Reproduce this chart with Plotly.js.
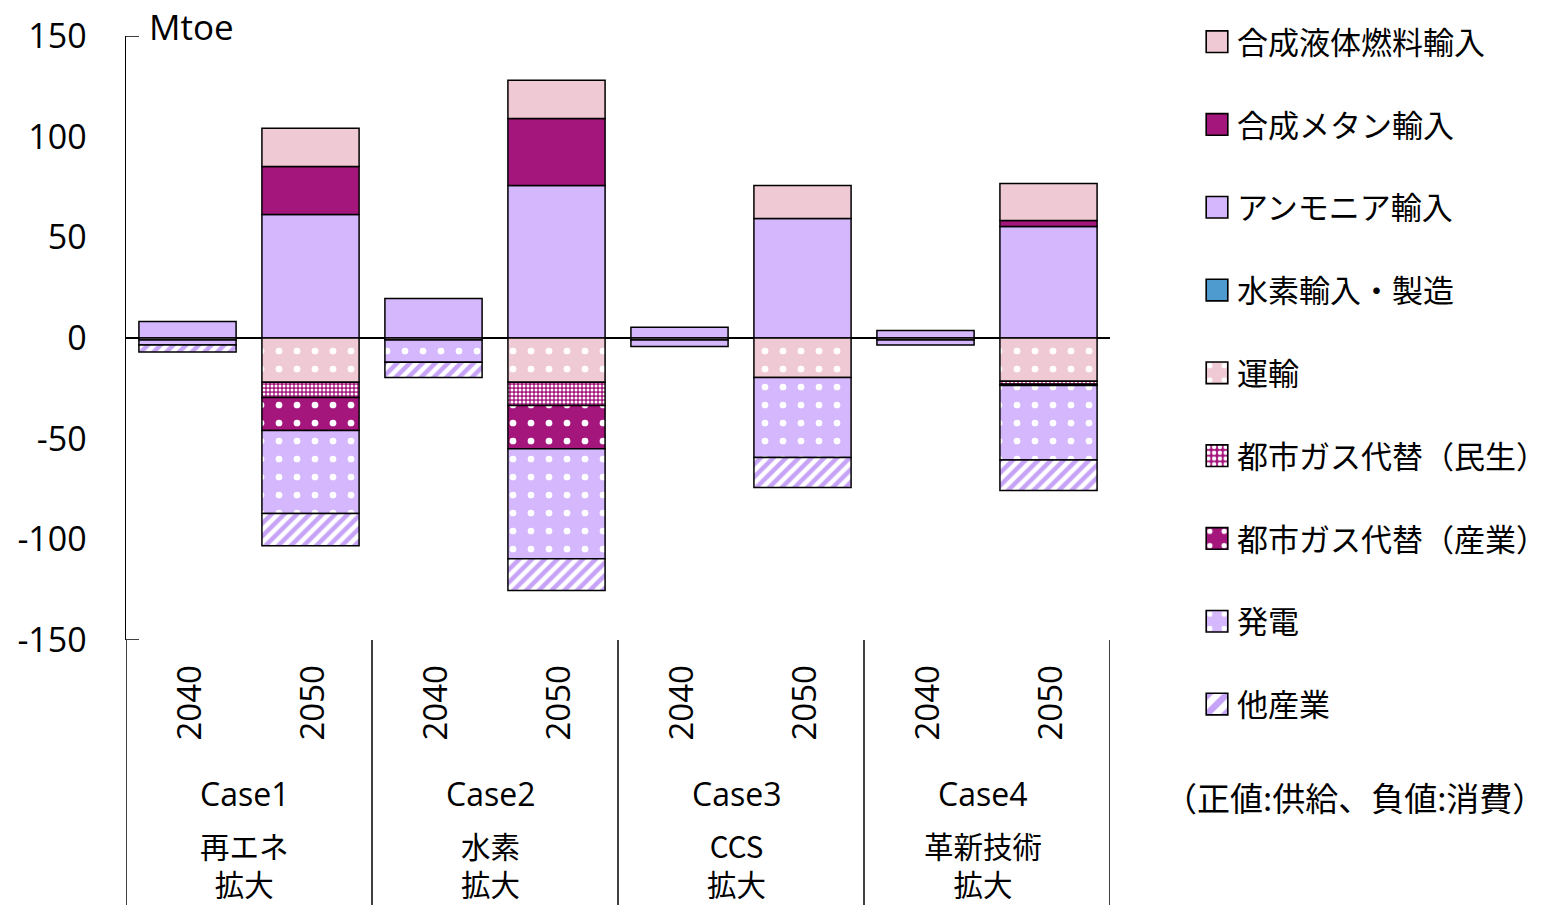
<!DOCTYPE html>
<html>
<head>
<meta charset="utf-8">
<script src="https://cdn.plot.ly/plotly-3.0.1.min.js"></script>
<style>
  html, body { margin: 0; padding: 0; background: #fff; }
  #chart { width: 1560px; height: 905px; }
</style>
</head>
<body>
<div id="chart"></div>
<script>
// Bar slots: 2040 / 2050 for each case
const years = ['2040', '2050', '2040', '2050', '2040', '2050', '2040', '2050'];
const caseNames = ['Case1', 'Case2', 'Case3', 'Case4'];
const caseSubtitles = [['再エネ', '拡大'], ['水素', '拡大'], ['CCS', '拡大'], ['革新技術', '拡大']];

// Supply (positive, Mtoe)
const hydrogenImport = [null, null, null, null, null, null, null, null];
const ammoniaImport  = [8.2, 61.3, 19.6, 75.8, 5.4, 59.4, 3.7, 55.4];
const methaneImport  = [null, 23.9, null, 33.2, null, null, null, 3.0];
const liquidImport   = [null, 19.0, null, 19.0, null, 16.4, null, 18.4];

// Consumption (negative, Mtoe)
const transport      = [-1.0, -22.0, -1.0, -22.0, -1.0, -19.6, -1.0, -21.5];
const cityGasHome    = [null, -7.5, null, -11.5, null, null, null, -1.5];
const cityGasIndustry= [null, -16.4, null, -21.5, null, null, null, -0.6];
const power          = [-2.5, -41.3, -11.0, -54.6, -3.2, -39.8, -2.5, -37.0];
const otherIndustry  = [-3.5, -16.0, -7.6, -15.8, null, -14.9, null, -15.2];

const legendNames = ['合成液体燃料輸入', '合成メタン輸入', 'アンモニア輸入', '水素輸入・製造',
  '運輸', '都市ガス代替（民生）', '都市ガス代替（産業）', '発電', '他産業'];

const PINK = '#EFCAD5', MAGENTA = '#A5167D', LAVENDER = '#D4B7FC', BLUE = '#4D9BCF';

// Plot area in pixels
const L = 126, R = 1110, T = 36, B = 640;
const py = p => (B - p) / (B - T);       // pixel y -> paper y
const pxp = p => (p - L) / (R - L);      // pixel x -> paper x

const xs = years.map((_, i) => i);
const FONT = '"Open Sans", "Noto Sans CJK JP", sans-serif';
const JFONT = '"Noto Sans CJK JP", sans-serif';

function bar(name, y, color, pattern, rank) {
  const t = {
    type: 'bar', name: name, x: xs, y: y, width: 0.79,
    legendgroup: name, legendrank: rank,
    marker: { color: color, line: { color: '#000', width: 1.5 } },
    hoverinfo: 'name+y'
  };
  if (pattern) t.marker.pattern = pattern;
  return t;
}

const dots = { shape: '.', fgcolor: '#ffffff', size: 18, solidity: 0.11 };

const traces = [
  bar(legendNames[3], hydrogenImport, BLUE, null, 4),
  bar(legendNames[2], ammoniaImport, LAVENDER, null, 3),
  bar(legendNames[1], methaneImport, MAGENTA, null, 2),
  bar(legendNames[0], liquidImport, PINK, null, 1),
  bar(legendNames[4], transport, PINK, Object.assign({ bgcolor: PINK }, dots), 5),
  bar(legendNames[5], cityGasHome, MAGENTA, { shape: '.', fgcolor: '#ffffff', bgcolor: MAGENTA, size: 4, solidity: 0.45 }, 6),
  bar(legendNames[6], cityGasIndustry, MAGENTA, Object.assign({ bgcolor: MAGENTA }, dots), 7),
  bar(legendNames[7], power, LAVENDER, Object.assign({ bgcolor: LAVENDER }, dots), 8),
  bar(legendNames[8], otherIndustry, '#ffffff', { shape: '/', fgcolor: '#C7A3F7', bgcolor: '#ffffff', size: 9, solidity: 0.5 }, 9)
];

const annotations = [];
// year labels under each bar
years.forEach((yr, i) => {
  annotations.push({
    xref: 'x', yref: 'paper', x: i, y: py(703), text: yr, textangle: -90,
    showarrow: false, xanchor: 'center', yanchor: 'middle',
    font: { family: FONT, size: 33, color: '#000' }
  });
});
// case names and subtitles, a little left of each group's centre
caseNames.forEach((c, k) => {
  const cx = 2 * k + 0.5 - 0.035;
  annotations.push({ xref: 'x', yref: 'paper', x: cx, y: py(793), text: c, showarrow: false,
    xanchor: 'center', yanchor: 'middle', font: { family: FONT, size: 32, color: '#000' } });
  annotations.push({ xref: 'x', yref: 'paper', x: cx, y: py(864), text: caseSubtitles[k].join('<br>'),
    showarrow: false, align: 'center', xanchor: 'center', yanchor: 'middle',
    font: { family: JFONT, size: 29.5, color: '#000' } });
});
// unit label
annotations.push({ xref: 'paper', yref: 'paper', x: pxp(147), y: py(27), text: 'Mtoe', showarrow: false,
  xanchor: 'left', yanchor: 'middle', font: { family: FONT, size: 35, color: '#000' } });
// sign note
annotations.push({ xref: 'paper', yref: 'paper', x: pxp(1354), y: py(797), text: '（正値:供給、負値:消費）', showarrow: false,
  xanchor: 'center', yanchor: 'middle', font: { family: JFONT, size: 33, color: '#000' } });

const shapes = [];
// group separators below the plot
[-0.5, 1.5, 3.5, 5.5, 7.5].forEach(xv => {
  shapes.push({ type: 'line', xref: 'x', yref: 'paper', x0: xv, x1: xv, y0: 0, y1: py(905),
    line: { color: '#000', width: 1.5 } });
});
// end ticks of the value axis
[150, -150].forEach(v => {
  shapes.push({ type: 'line', xref: 'paper', yref: 'y', x0: 0, x1: pxp(139), y0: v, y1: v,
    line: { color: '#000', width: 1.5 } });
});

const layout = {
  width: 1560, height: 905,
  margin: { l: L, r: 1560 - R, t: T, b: 905 - B, pad: 0, autoexpand: false },
  paper_bgcolor: '#fff', plot_bgcolor: '#fff',
  barmode: 'relative',
  showlegend: true,
  legend: {
    x: pxp(1197), y: py(15), xanchor: 'left', yanchor: 'top',
    traceorder: 'grouped', tracegroupgap: 39.5, maxheight: 880,
    font: { family: JFONT, size: 31, color: '#000' },
    bgcolor: 'rgba(0,0,0,0)', itemwidth: 30
  },
  xaxis: {
    range: [-0.5, 7.5], showticklabels: false, showgrid: false, zeroline: false,
    showline: false, ticks: '', fixedrange: true
  },
  yaxis: {
    range: [-150, 150], tickvals: [150, 100, 50, 0, -50, -100, -150],
    ticktext: ['150', '100', '50', '0', '-50', '-100', '-150'],
    showgrid: false, zeroline: true, zerolinecolor: '#000', zerolinewidth: 1.5,
    showline: true, linecolor: '#000', linewidth: 1.5, ticks: '',
    ticklabelstandoff: 31,
    tickfont: { family: FONT, size: 34, color: '#000' }, fixedrange: true
  },
  annotations: annotations,
  shapes: shapes
};

Plotly.newPlot('chart', traces, layout, { displayModeBar: false, staticPlot: true }).then(gd => {
  // enlarge the legend swatches, keeping their own placement
  gd.querySelectorAll('.legend .legendpoints path').forEach(p => {
    const t = p.getAttribute('transform') || '';
    p.setAttribute('transform', (t + ' scale(1.8)').trim());
    p.style.strokeWidth = '0.9px';
  });
});
</script>
</body>
</html>
